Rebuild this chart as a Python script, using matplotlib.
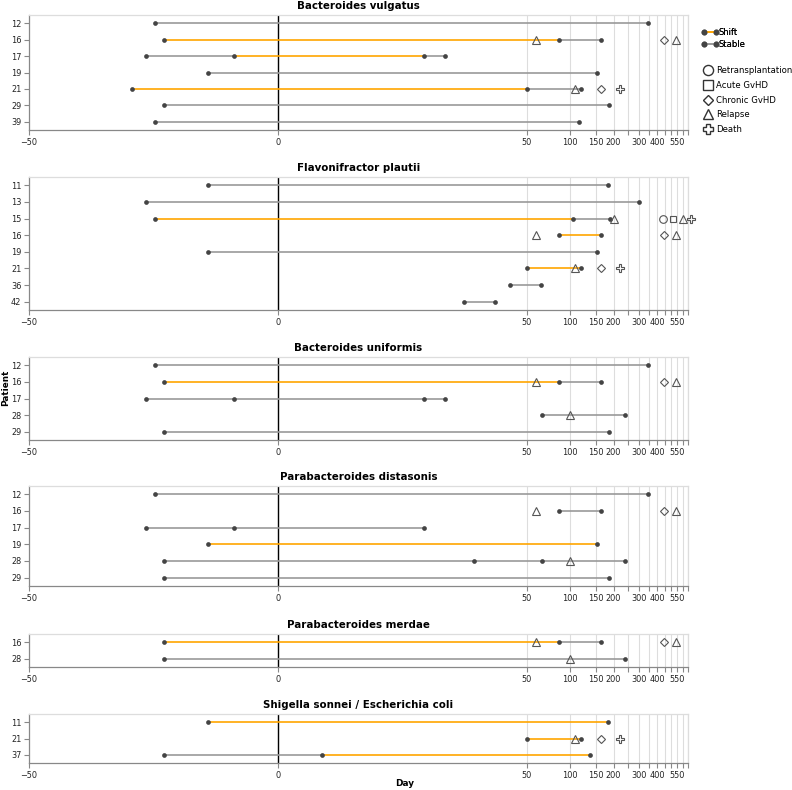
import numpy as np
import matplotlib
matplotlib.use("Agg")
import matplotlib.pyplot as plt
from matplotlib.lines import Line2D

# ---- data ----
taxa = ["Bacteroides vulgatus", "Flavonifractor plautii", "Bacteroides uniformis",
        "Parabacteroides distasonis", "Parabacteroides merdae",
        "Shigella sonnei / Escherichia coli"]

patients = [
    [12, 16, 17, 19, 21, 29, 39],
    [11, 13, 15, 16, 19, 21, 36, 42],
    [12, 16, 17, 28, 29],
    [12, 16, 17, 19, 28, 29],
    [16, 28],
    [11, 21, 37],
]

# sample days per patient (one list per taxon)
samples = [
    [[-6, 343], [-5, 84, 164], [-7, -1, 9, 13], [-2, 154], [-9, 50, 120], [-5, 187], [-6, 116]],
    [[-2, 183], [-7, 301], [-6, 104, 190], [84, 164], [-2, 154], [50, 120], [38, 63], [18, 30]],
    [[-6, 343], [-5, 84, 164], [-7, -1, 9, 13], [64, 238], [-5, 187]],
    [[-6, 343], [84, 164], [-7, -1, 9], [-2, 154], [-5, 21, 64, 238], [-5, 187]],
    [[-5, 84, 164], [-5, 238]],
    [[-2, 183], [50, 120], [-5, 1, 137]],
]

# state of each segment between consecutive samples
states = [
    [["Stable"], ["Shift", "Stable"], ["Stable", "Shift", "Stable"], ["Stable"],
     ["Shift", "Stable"], ["Stable"], ["Stable"]],
    [["Stable"], ["Stable"], ["Shift", "Stable"], ["Shift"], ["Stable"], ["Shift"],
     ["Stable"], ["Stable"]],
    [["Stable"], ["Shift", "Stable"], ["Stable", "Stable", "Stable"], ["Stable"], ["Stable"]],
    [["Stable"], ["Stable"], ["Stable", "Stable"], ["Shift"],
     ["Stable", "Stable", "Stable"], ["Stable"]],
    [["Shift", "Stable"], ["Stable"]],
    [["Shift"], ["Shift"], ["Stable", "Shift"]],
]

event_patient = [16, 16, 16, 21, 21, 21, 15, 15, 15, 15, 15, 28]
event_type = ["Relapse", "Chronic GvHD", "Relapse", "Relapse", "Chronic GvHD", "Death",
              "Relapse", "Retransplantation", "Acute GvHD", "Relapse", "Death", "Relapse"]
event_day = [58, 444, 537, 108, 165, 222, 200, 435, 513, 597, 685, 100]

event_names = ["Retransplantation", "Acute GvHD", "Chronic GvHD", "Relapse", "Death"]
event_markers = {"Retransplantation": "o", "Acute GvHD": "s", "Chronic GvHD": "D",
                 "Relapse": "^", "Death": "P"}
event_sizes = {"Retransplantation": 5.5, "Acute GvHD": 5.0, "Chronic GvHD": 3.6,
               "Relapse": 5.2, "Death": 5.5}
state_colors = {"Shift": "#FFA500", "Stable": "#999999"}

tick_vals = list(range(-50, 651, 50))
shown_labels = [-50, 0, 50, 100, 150, 200, 300, 400, 550]

# panel positions in pixels (top, bottom)
panel_px = [(15, 130), (177, 310), (357, 440), (486, 586), (634, 667), (714, 763)]


def fwd(x):
    x = np.asarray(x, dtype=float)
    return np.sign(x) * np.log1p(np.abs(x))


def inv(y):
    y = np.asarray(y, dtype=float)
    return np.sign(y) * np.expm1(np.abs(y))


W, H = 792, 790
fig = plt.figure(figsize=(W / 100, H / 100), dpi=100)

for k, name in enumerate(taxa):
    top, bot = panel_px[k]
    ax = fig.add_axes([29 / W, 1 - bot / H, 659 / W, (bot - top) / H])
    ax.set_xscale("function", functions=(fwd, inv))
    ax.set_xlim(-50, 650)
    n = len(patients[k])
    ax.set_ylim(n - 0.5, -0.5)

    ax.grid(axis="x", color="#dddddd", lw=0.8, zorder=0)
    ax.axvline(0, color="black", lw=1.0, zorder=1.8)

    for i, p in enumerate(patients[k]):
        days = samples[k][i]
        for j, st in enumerate(states[k][i]):
            ax.plot([days[j], days[j + 1]], [i, i], color=state_colors[st],
                    lw=1.2, solid_capstyle="butt", zorder=2)
        ax.plot(days, [i] * len(days), "o", color="#444444", ms=3.4, mew=0, zorder=3)
        for ep, et, ed in zip(event_patient, event_type, event_day):
            if ep == p:
                ax.plot(ed, i, event_markers[et], ms=event_sizes[et], mfc="none",
                        mec="#555555", mew=0.8, zorder=4, clip_on=False)

    ax.set_yticks(range(n))
    ax.set_yticklabels([str(p) for p in patients[k]])
    ax.set_xticks(tick_vals)
    ax.set_xticks([], minor=True)
    ax.set_xticklabels([str(v).replace("-", "\u2212") if v in shown_labels else ""
                        for v in tick_vals])
    ax.tick_params(axis="both", labelsize=5.9, colors="#222222", length=3.5, width=0.8,
                   pad=2)
    ax.tick_params(axis="both", color="#888888")
    for s in ["top", "right"]:
        ax.spines[s].set_color("#dddddd")
    for s in ["left", "bottom"]:
        ax.spines[s].set_color("#888888")
    for s in ax.spines.values():
        s.set_linewidth(0.9)
    ax.set_title(name, fontsize=7.4, fontweight="bold", pad=4)

fig.text(6 / W, 1 - 388 / H, "Patient", rotation=90, ha="center", va="center",
         fontsize=6.4, fontweight="bold")
fig.text(405 / W, 1 - 784 / H, "Day", ha="center", va="center",
         fontsize=6.4, fontweight="bold")

state_handles = [Line2D([0, 1], [0, 0], color=state_colors[s], lw=1.2, marker="o",
                        ms=3.2, mfc="#444444", mec="#444444") for s in ["Shift", "Stable"]]
leg1 = fig.legend(state_handles, ["Shift", "Stable"], loc="upper left",
                  bbox_to_anchor=(701 / W, 1 - 28 / H), frameon=False, fontsize=6.1,
                  numpoints=2, handlelength=2.1, handletextpad=0.0, labelspacing=0.3,
                  borderpad=0, borderaxespad=0)
fig.add_artist(leg1)

event_handles = [Line2D([], [], marker=event_markers[e], ls="none",
                        ms=event_sizes[e] + 1.8, mfc="none", mec="#333333", mew=1.0)
                 for e in event_names]
fig.legend(event_handles, event_names, loc="upper left",
           bbox_to_anchor=(703 / W, 1 - 66 / H), frameon=False, fontsize=6.1,
           handlelength=1.1, handletextpad=0.45, labelspacing=0.68,
           borderpad=0, borderaxespad=0)

fig.savefig("out.png", dpi=100)
